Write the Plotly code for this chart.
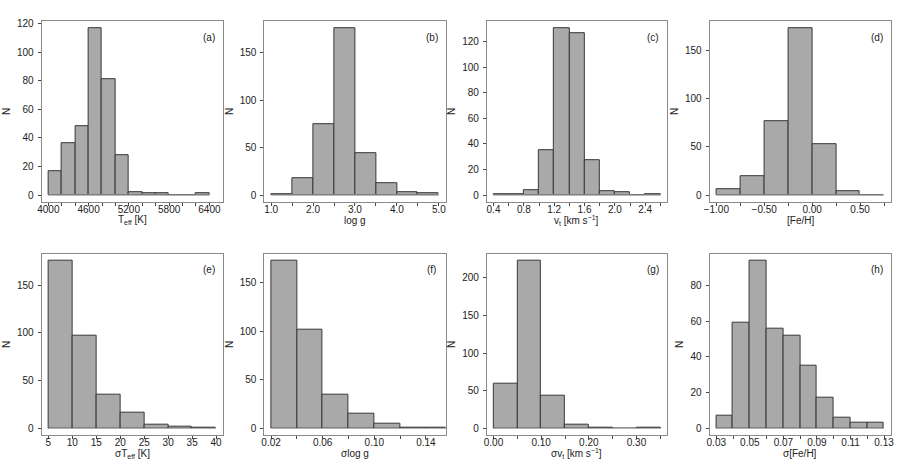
import plotly.graph_objects as go

# ---------------- data ----------------
teff_edges = [4000, 4200, 4400, 4600, 4800, 5000, 5200, 5400, 5600, 5800, 6000, 6200, 6400]
teff_counts = [17, 36, 48, 117, 81, 28, 2, 1, 1, 0, 0, 1]

logg_edges = [1.0, 1.5, 2.0, 2.5, 3.0, 3.5, 4.0, 4.5, 5.0]
logg_counts = [1, 18, 75, 176, 44, 13, 3, 2]

vt_edges = [0.4, 0.6, 0.8, 1.0, 1.2, 1.4, 1.6, 1.8, 2.0, 2.2, 2.4, 2.6]
vt_counts = [1, 1, 4, 35, 131, 127, 27, 3, 2, 0, 1]

feh_edges = [-1.0, -0.75, -0.5, -0.25, 0.0, 0.25, 0.5, 0.75]
feh_counts = [6, 20, 76, 173, 53, 4, 0]

steff_edges = [5, 10, 15, 20, 25, 30, 35, 40]
steff_counts = [176, 97, 35, 17, 4, 2, 1]

slogg_edges = [0.02, 0.04, 0.06, 0.08, 0.10, 0.12, 0.14, 0.16]
slogg_counts = [173, 102, 35, 15, 5, 1, 1]

svt_edges = [0.0, 0.05, 0.10, 0.15, 0.20, 0.25, 0.30, 0.35]
svt_counts = [59, 223, 43, 5, 1, 0, 1]

sfeh_edges = [0.03, 0.04, 0.05, 0.06, 0.07, 0.08, 0.09, 0.10, 0.11, 0.12, 0.13]
sfeh_counts = [7, 59, 94, 56, 52, 35, 17, 6, 3, 3]

# labelled x ticks
teff_ticks = [4000, 4600, 5200, 5800, 6400]
teff_ticktext = ["4000", "4600", "5200", "5800", "6400"]
logg_ticks = [1.0, 2.0, 3.0, 4.0, 5.0]
logg_ticktext = ["1.0", "2.0", "3.0", "4.0", "5.0"]
vt_ticks = [0.4, 0.8, 1.2, 1.6, 2.0, 2.4]
vt_ticktext = ["0.4", "0.8", "1.2", "1.6", "2.0", "2.4"]
feh_ticks = [-1.0, -0.5, 0.0, 0.5]
feh_ticktext = ["\u22121.00", "\u22120.50", "0.00", "0.50"]
steff_ticks = [5, 10, 15, 20, 25, 30, 35, 40]
steff_ticktext = ["5", "10", "15", "20", "25", "30", "35", "40"]
slogg_ticks = [0.02, 0.06, 0.10, 0.14]
slogg_ticktext = ["0.02", "0.06", "0.10", "0.14"]
svt_ticks = [0.0, 0.10, 0.20, 0.30]
svt_ticktext = ["0.00", "0.10", "0.20", "0.30"]
sfeh_ticks = [0.03, 0.05, 0.07, 0.09, 0.11, 0.13]
sfeh_ticktext = ["0.03", "0.05", "0.07", "0.09", "0.11", "0.13"]

# unlabelled x ticks
teff_minor = [4200, 4400, 4800, 5000, 5400, 5600, 6000, 6200]
logg_minor = [1.5, 2.5, 3.5, 4.5]
vt_minor = [0.6, 1.0, 1.4, 1.8, 2.2, 2.6]
feh_minor = [-0.75, -0.25, 0.25, 0.75]
steff_minor = []
slogg_minor = [0.04, 0.08, 0.12]
svt_minor = [0.05, 0.15, 0.25, 0.35]
sfeh_minor = [0.04, 0.06, 0.08, 0.10, 0.12]

y_ticks_a = [0, 20, 40, 60, 80, 100, 120]
y_ticks_b = [0, 50, 100, 150]
y_ticks_g = [0, 50, 100, 150, 200]
y_ticks_h = [0, 20, 40, 60, 80]

x_titles = ["T<sub>eff</sub> [K]", "log g", "v<sub>t</sub> [km s<sup>\u22121</sup>]", "[Fe/H]",
            "\u03c3T<sub>eff</sub> [K]", "\u03c3log g", "\u03c3v<sub>t</sub> [km s<sup>\u22121</sup>]", "\u03c3[Fe/H]"]
panel_labels = ["(a)", "(b)", "(c)", "(d)", "(e)", "(f)", "(g)", "(h)"]

# ---------------- layout config ----------------
W, H = 899, 469
FONT = "Liberation Sans, Arial, sans-serif"
TXT = "#222"
col_px = [(36, 219), (261, 444), (485.7, 667.7), (710.7, 893.7)]
row_px = [(18.3, 200), (252.3, 435)]

panels = [
    (teff_edges, teff_counts, teff_ticks, teff_ticktext, teff_minor, y_ticks_a, (4000, 6500)),
    (logg_edges, logg_counts, logg_ticks, logg_ticktext, logg_minor, y_ticks_b, None),
    (vt_edges, vt_counts, vt_ticks, vt_ticktext, vt_minor, y_ticks_a, None),
    (feh_edges, feh_counts, feh_ticks, feh_ticktext, feh_minor, y_ticks_b, None),
    (steff_edges, steff_counts, steff_ticks, steff_ticktext, steff_minor, y_ticks_b, None),
    (slogg_edges, slogg_counts, slogg_ticks, slogg_ticktext, slogg_minor, y_ticks_b, (0.02, 0.15)),
    (svt_edges, svt_counts, svt_ticks, svt_ticktext, svt_minor, y_ticks_g, None),
    (sfeh_edges, sfeh_counts, sfeh_ticks, sfeh_ticktext, sfeh_minor, y_ticks_h, None),
]

fig = go.Figure()
layout = dict(
    width=W, height=H, autosize=False,
    margin=dict(l=0, r=0, t=0, b=0),
    paper_bgcolor="white", plot_bgcolor="white",
    showlegend=False, bargap=0,
    font=dict(family=FONT, size=10, color=TXT),
    annotations=[],
)

for i, (edges, counts, tv, tt, mv, ytv, xlim) in enumerate(panels):
    r, c = divmod(i, 4)
    n = i + 1
    xa = "x" if n == 1 else f"x{n}"
    ya = "y" if n == 1 else f"y{n}"
    lo, hi = xlim if xlim else (edges[0], edges[-1])
    d = hi - lo
    xr = [lo - 0.04 * d, hi + 0.04 * d]
    ymax = max(counts)
    yr = [-0.04 * ymax, 1.04 * ymax]

    centers = [(edges[k] + edges[k + 1]) / 2 for k in range(len(counts))]
    widths = [edges[k + 1] - edges[k] for k in range(len(counts))]

    # zero baseline across all bins
    fig.add_trace(go.Scatter(x=[edges[0], edges[-1]], y=[0, 0], mode="lines",
                             line=dict(color="#b0b0b0", width=1.2),
                             xaxis=xa, yaxis=ya, hoverinfo="skip"))
    fig.add_trace(go.Bar(x=centers, y=counts, width=widths,
                         marker=dict(color="#a9a9a9", line=dict(color="#383838", width=1)),
                         xaxis=xa, yaxis=ya))

    x0, x1 = col_px[c]
    y0, y1 = row_px[r]
    xd = [x0 / W, x1 / W]
    yd = [1 - y1 / H, 1 - y0 / H]

    axis_common = dict(showline=True, mirror=True, linecolor="#8a8a8a", linewidth=1,
                       ticks="outside", ticklen=3, tickcolor="#444", tickwidth=1,
                       showgrid=False, zeroline=False,
                       tickfont=dict(family=FONT, size=10, color=TXT))
    xaxis = dict(
        axis_common, domain=xd, range=xr, anchor=ya,
        tickmode="array", tickvals=tv, ticktext=tt, ticklabelstandoff=-5,
    )
    if mv:
        xaxis["minor"] = dict(tickmode="array", tickvals=mv, ticks="outside", ticklen=3,
                              tickcolor="#444", tickwidth=1, showgrid=False)
    layout["xaxis" if n == 1 else f"xaxis{n}"] = xaxis
    layout["yaxis" if n == 1 else f"yaxis{n}"] = dict(
        axis_common, domain=yd, range=yr, anchor=xa,
        tickmode="array", tickvals=ytv, ticktext=[str(v) for v in ytv], ticklabelstandoff=2,
        title=dict(text="N", standoff=4, font=dict(family=FONT, size=10, color=TXT)),
    )
    # x-axis title, placed just under the tick labels
    layout["annotations"].append(dict(
        text=x_titles[i], xref=f"{xa} domain", yref=f"{ya} domain",
        x=0.5, y=0, xanchor="center", yanchor="middle", yshift=-18.5, showarrow=False,
        font=dict(family=FONT, size=10, color=TXT),
    ))
    # panel label
    layout["annotations"].append(dict(
        text=panel_labels[i], xref=f"{xa} domain", yref=f"{ya} domain",
        x=0.923, y=0.912, xanchor="center", yanchor="middle", showarrow=False,
        font=dict(family=FONT, size=10, color=TXT),
    ))

fig.update_layout(**layout)
fig.write_html("out.html", config={"displayModeBar": False},
               post_script="document.body.style.margin='0';")
